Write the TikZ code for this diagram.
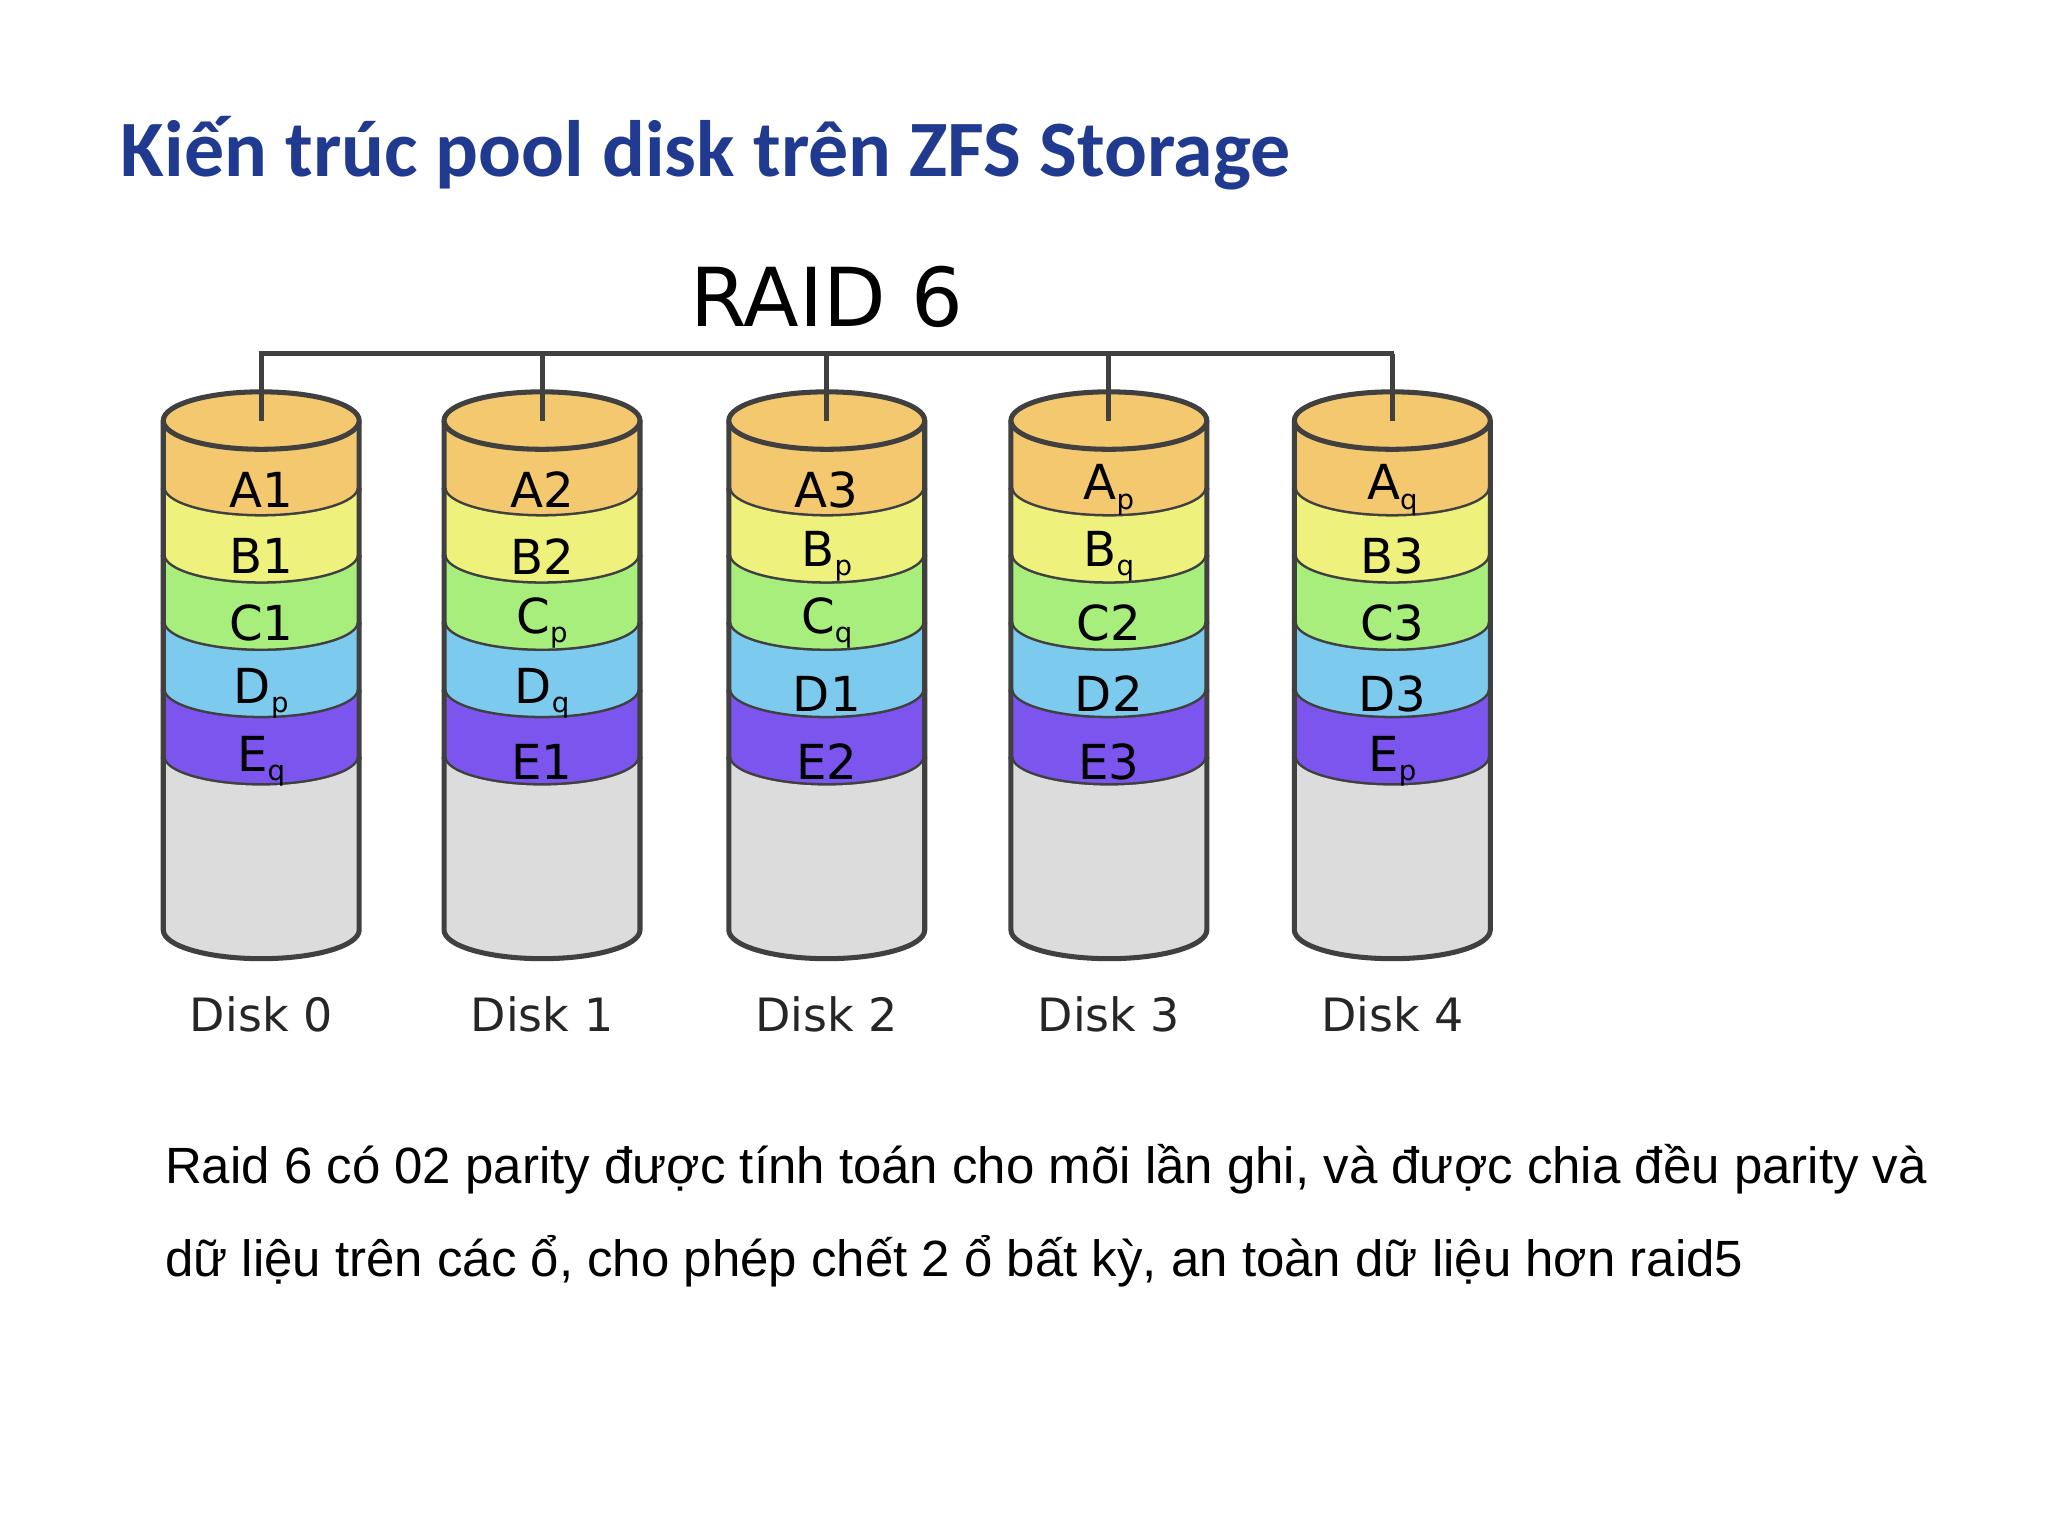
\documentclass[tikz,border=0pt]{standalone}
\usepackage{fontspec}
\setmainfont{Liberation Sans}
\newfontfamily\titlefont{Carlito}
\newfontfamily\raidfont{DejaVu Sans}
\newfontfamily\lblfont{DejaVu Sans}
\definecolor{ttl}{HTML}{1F3A8F}
\definecolor{cA}{HTML}{F3C86E}
\definecolor{cB}{HTML}{EEF27C}
\definecolor{cC}{HTML}{A8EE7C}
\definecolor{cD}{HTML}{7CCBEE}
\definecolor{cE}{HTML}{7C55EE}
\definecolor{cG}{HTML}{DCDCDC}
\definecolor{edge}{HTML}{404040}
\newcommand{\subl}[1]{\raisebox{-.35ex}{\fontsize{6}{6}\selectfont #1}}
\tikzset{lbl/.style={font=\lblfont\fontsize{10.5}{11}\selectfont, text=black},
  dlbl/.style={font=\lblfont\fontsize{10}{11}\selectfont, text=black!85},
  edg/.style={draw=edge, line width=1.1pt}}
\newcommand{\band}[4]{% x, yt, yb, color
  \fill[#4] (#1-75,#2) -- (#1-75,#3) arc[start angle=180,end angle=0,x radius=75,y radius=22] -- (#1+75,#2) arc[start angle=0,end angle=180,x radius=75,y radius=22] -- cycle;
  \draw[edg] (#1-75,#2) -- (#1-75,#3) arc[start angle=180,end angle=0,x radius=75,y radius=22] -- (#1+75,#2);}
\begin{document}
\begin{tikzpicture}[x=0.01cm,y=-0.01cm]
\useasboundingbox (0,0) rectangle (1568,1176);
\node[anchor=west,font=\titlefont\bfseries\fontsize{17.4}{18}\selectfont,text=ttl] (title) at (80,117) {Kiến trúc pool disk trên ZFS Storage};
\node[font=\raidfont\fontsize{17.7}{18}\selectfont] (raid) at (633,227) {RAID 6};
\foreach \x/\a/\b/\c/\d/\e/\n in {200/A1/B1/C1/D\subl{p}/E\subl{q}/0, 415/A2/B2/C\subl{p}/D\subl{q}/E1/1, 633/A3/B\subl{p}/C\subl{q}/D1/E2/2, 849/A\subl{p}/B\subl{q}/C2/D2/E3/3, 1066/A\subl{q}/B3/C3/D3/E\subl{p}/4}{
  \band{\x}{322}{373.5}{cA}
  \band{\x}{373.5}{425}{cB}
  \band{\x}{425}{476.5}{cC}
  \band{\x}{476.5}{528}{cD}
  \band{\x}{528}{579.5}{cE}
  \band{\x}{579.5}{712}{cG}
  \filldraw[fill=cA,edg] (\x,322) ellipse[x radius=75,y radius=22];
  \node[lbl] at (\x,375) {\a};
  \node[lbl] at (\x,426) {\b};
  \node[lbl] at (\x,477) {\c};
  \node[lbl] at (\x,531) {\d};
  \node[lbl] at (\x,583) {\e};
  \node[dlbl] (disk\n) at (\x,777) {Disk \n};
  \coordinate (top\n) at (\x,322);
}
\coordinate (bl) at (198,271);
\coordinate (br) at (1067,271);
\draw[edg] (bl) -- (br);
\foreach \n in {0,...,4}{\draw[edg] (top\n) -- (top\n |- bl);}
\node[anchor=west,font=\fontsize{11.1}{11}\selectfont] (p1) at (114,895) {Raid 6 có 02 parity được tính toán cho mõi lần ghi, và được chia đều parity và};
\node[anchor=west,font=\fontsize{11.1}{11}\selectfont] (p2) at (114,966) {dữ liệu trên các ổ, cho phép chết 2 ổ bất kỳ, an toàn dữ liệu hơn raid5};
\end{tikzpicture}
\end{document}
